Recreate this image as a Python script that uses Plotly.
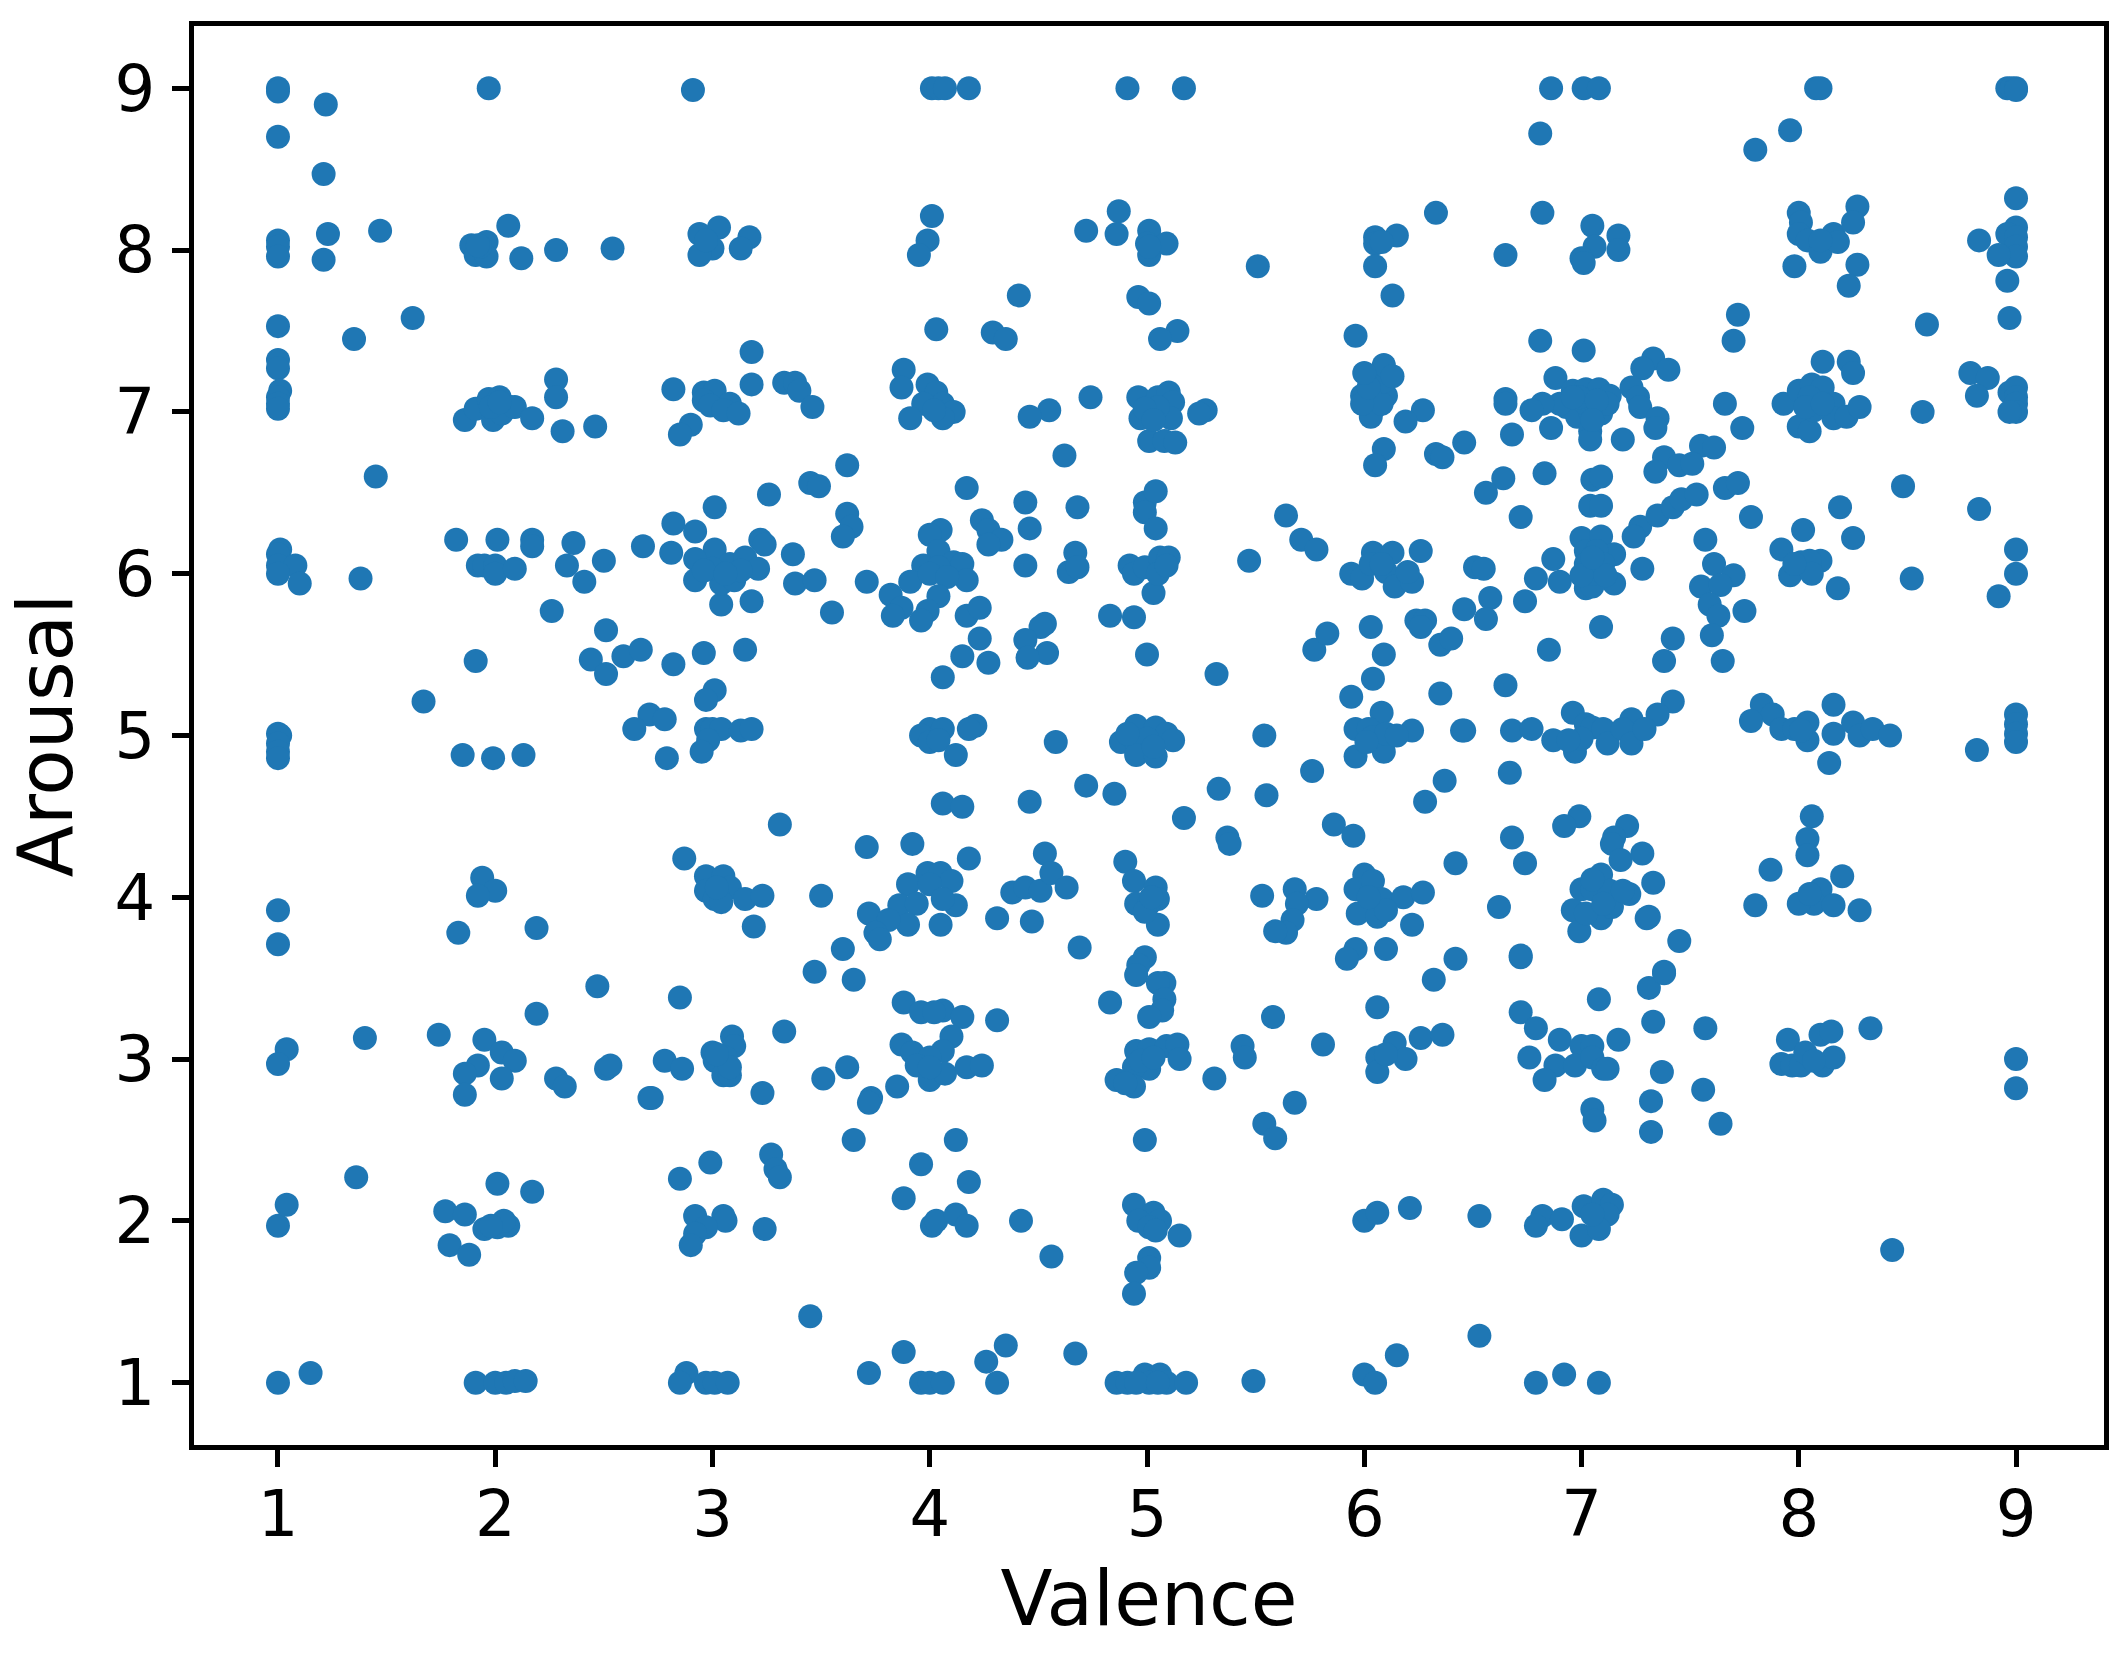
import plotly.graph_objects as go

# (valence, arousal) pairs, grouped by arousal band
band_9 = [(1,9.0),(1,8.98),(1.22,8.90),(1,8.70),(1.21,8.47),(1.97,9.0),(2.91,8.99),
 (4.01,9),(4.04,9),(4.07,9),(4.18,9),(4.91,9),(5.17,9),(6.86,9),(7.01,9),(7.08,9),(6.81,8.72),
 (8.08,9),(8.10,9),(7.96,8.74),(7.80,8.62),(8.96,9),(8.98,9),(9.0,9),(9.0,8.99)]
band_8 = [(1,8.06),(1,8.02),(1,7.96),(1.23,8.10),(1.47,8.12),(1.21,7.94),(2.06,8.15),(1.89,8.03),(1.91,7.97),
 (1.96,8.05),(1.96,7.96),(1.93,8.02),(1.92,8.03),(2.12,7.95),(2.28,8.0),(2.54,8.01),(2.94,8.10),(3.03,8.14),
 (3.0,8.01),(2.94,7.97),(3.17,8.08),(3.13,8.01),(2.97,8.06),(1,7.53),(1.35,7.45),(1.62,7.58),
 (4.01,8.21),(3.99,8.06),(3.95,7.97),(4.87,8.24),(4.72,8.12),(4.86,8.10),(5.01,8.12),(5.09,8.04),(5.0,8.04),
 (5.01,7.97),(5.01,8.02),(5.51,7.90),(6.05,8.08),(6.15,8.09),(6.05,8.04),(6.08,8.05),(6.33,8.23),(6.05,7.90),
 (6.13,7.72),(4.41,7.72),(4.96,7.71),(5.01,7.67),(4.03,7.51),(4.29,7.49),(4.35,7.45),(5.14,7.50),(5.06,7.45),
 (5.96,7.47),(6.82,8.23),(7.05,8.15),(7.17,8.09),(7.17,8.0),(7.06,8.02),(7.0,7.95),(7.01,7.92),(6.65,7.97),
 (8.0,8.23),(8.01,8.17),(8.0,8.10),(8.04,8.06),(8.10,7.99),(8.16,8.10),(8.18,8.05),(8.10,8.06),(8.27,8.27),
 (8.25,8.17),(7.98,7.90),(8.27,7.91),(8.23,7.78),(9,8.32),(9,8.14),(8.96,8.10),(9,8.08),(9,8.02),(9,7.96),
 (8.83,8.06),(8.92,7.97),(8.96,7.81),(7.72,7.60),(7.70,7.44),(8.59,7.54),(8.97,7.58),(6.81,7.44),(7.01,7.38)]
band_7 = [(1,7.32),(1,7.27),(1.01,7.13),(1,7.09),(1,7.05),(1,7.02),(2.28,7.20),(2.28,7.09),(1.86,6.95),(1.91,7.02),
 (1.99,6.95),(1.97,7.08),(2.02,7.09),(2.07,7.03),(2.03,6.99),(2.09,7.03),(1.98,7.03),(2.02,7.06),(2.17,6.96),
 (2.31,6.88),(2.46,6.91),(2.82,7.14),(3.18,7.37),(3.18,7.17),(2.96,7.12),(3.01,7.13),(2.96,7.07),(2.99,7.04),
 (3.08,7.05),(3.05,7.01),(3.12,6.99),(2.90,6.92),(2.85,6.86),(3.33,7.18),(3.38,7.18),(3.40,7.13),(3.46,7.03),
 (3.88,7.26),(3.87,7.15),(3.99,7.17),(4.03,7.12),(4.06,7.05),(3.97,7.05),(4.11,7.0),(3.91,6.96),(4.06,6.96),
 (4.02,7.01),(4.55,7.01),(4.46,6.97),(4.74,7.09),(4.96,7.09),(5.05,7.09),(5.10,7.12),(5.12,7.06),(4.97,6.96),
 (5.11,6.96),(5.05,7.03),(5.01,6.82),(5.08,6.82),(5.13,6.81),(4.99,7.02),(5.03,6.95),(5.27,7.01),(5.24,6.99),
 (5.99,7.10),(6.05,7.03),(6.03,6.97),(6.10,7.10),(6.08,7.05),(5.99,7.05),(6.09,7.19),(6.02,7.15),(6.27,7.01),
 (6.19,6.94),(6.09,7.29),(6.0,7.24),(6.13,7.22),(6.46,6.81),(6.09,6.77),(6.05,6.67),(6.33,6.74),(6.36,6.72),
 (7.33,7.33),(7.28,7.27),(7.40,7.26),(6.88,7.21),(6.65,7.08),(6.65,7.05),(6.96,7.13),(7.02,7.14),(7.08,7.14),
 (7.13,7.10),(6.93,7.03),(6.98,6.97),(7.04,7.0),(7.09,6.99),(7.12,7.05),(7.02,7.05),(6.99,7.09),(7.07,7.07),
 (7.04,6.88),(7.04,6.83),(7.05,6.95),(6.90,7.05),(6.96,7.09),(6.82,7.05),(6.77,7.01),(6.86,6.90),(6.68,6.86),
 (7.19,6.83),(7.23,7.15),(7.26,7.09),(7.27,7.03),(7.35,6.96),(7.34,6.90),(7.66,7.05),(7.74,6.90),(7.55,6.79),
 (7.61,6.78),(7.38,6.72),(7.45,6.67),(7.51,6.68),(7.34,6.63),(7.93,7.05),(8.0,7.13),(8.06,7.17),(8.11,7.15),
 (8.05,7.09),(8.16,7.05),(8.0,6.91),(8.05,6.88),(8.16,6.96),(8.22,6.97),(8.28,7.03),(8.07,7.01),(8.03,7.03),
 (8.11,7.05),(8.11,7.31),(8.23,7.31),(8.25,7.24),(8.57,7.0),(8.79,7.24),(8.87,7.21),(8.82,7.10),(8.97,7.12),
 (9,7.15),(9,7.09),(9,7.05),(9,7.0),(8.97,7.0),(3.62,6.67),(4.62,6.73),(1.45,6.60)]
band_6 = [(1.01,6.15),(1,6.12),(1,6.05),(1.08,6.05),(1,6.0),(1.10,5.94),(1.38,5.97),(1.82,6.21),(2.01,6.21),(2.17,6.21),
 (2.17,6.17),(2.36,6.19),(1.92,6.05),(1.95,6.05),(2.0,6.05),(2.0,6.0),(2.09,6.03),(2.33,6.05),(2.50,6.08),(2.41,5.95),
 (2.26,5.77),(2.68,6.17),(2.82,6.31),(2.92,6.26),(2.81,6.13),(3.01,6.41),(3.01,6.15),(2.92,6.09),(2.92,5.96),(3.04,5.81),
 (3.18,5.83),(3.04,5.94),(3.08,6.06),(3.15,6.10),(3.21,6.03),(3.10,5.96),(3.0,6.03),(3.13,6.02),(2.96,6.02),(3.06,6.0),
 (3.22,6.21),(3.24,6.18),(3.37,6.12),(3.38,5.94),(3.47,5.96),(3.26,6.49),(3.45,6.56),(3.49,6.54),(3.55,5.76),
 (3.62,6.37),(3.64,6.29),(3.60,6.23),(4.05,6.27),(4.0,6.24),(4.24,6.33),(4.27,6.27),(4.33,6.21),(4.27,6.18),(4.44,6.44),
 (4.46,6.28),(4.68,6.41),(4.17,6.53),(4.99,6.44),(5.04,6.51),(4.99,6.38),(5.04,6.28),(5.64,6.36),(5.71,6.21),(5.78,6.15),
 (5.47,6.08),(4.67,6.13),(4.64,6.01),(4.68,6.04),(4.44,6.05),(3.71,5.95),(4.04,6.14),(3.97,6.05),(3.91,5.95),(4.11,6.07),
 (4.15,6.06),(4.17,5.96),(4.04,6.04),(4.0,6.0),(4.08,5.98),(4.04,5.86),(3.82,5.87),(3.87,5.79),(3.83,5.74),(3.99,5.77),
 (3.96,5.71),(4.17,5.74),(4.23,5.79),(4.83,5.74),(4.94,5.73),(4.92,6.05),(4.94,6.0),(4.99,6.04),(5.06,6.10),(5.10,6.10),
 (5.03,5.88),(5.05,6.0),(5.09,6.05),(6.26,6.14),(6.04,6.13),(6.13,6.13),(5.94,6.0),(5.99,5.97),(6.10,6.01),(6.14,5.92),
 (6.22,5.95),(6.20,6.01),(6.03,6.06),(6.08,6.06),(6.46,5.78),(6.72,6.35),(6.64,6.59),(6.56,6.50),(6.83,6.62),(7.05,6.58),
 (7.09,6.60),(7.04,6.42),(7.09,6.42),(7.27,6.29),(7.24,6.23),(7.35,6.36),(7.42,6.41),(7.46,6.46),(7.53,6.49),(7.66,6.53),
 (7.72,6.56),(7.78,6.35),(8.19,6.41),(8.83,6.40),(8.48,6.54),(8.02,6.27),(8.25,6.22),(7.92,6.15),(9,6.15),(9,6.0),
 (8.92,5.86),(8.18,5.91),(8.52,5.97),(8.01,6.07),(8.10,6.08),(8.05,6.08),(7.96,5.99),(8.06,6.0),(7.98,6.06),(7.57,6.21),
 (7.61,6.06),(7.70,5.99),(7.55,5.92),(7.64,5.93),(7.59,5.81),(7.63,5.74),(7.60,5.62),(7.75,5.77),(6.51,6.04),(6.55,6.03),
 (6.58,5.85),(6.56,5.72),(6.74,5.83),(6.79,5.97),(6.87,6.09),(6.90,5.95),(7.0,6.22),(7.09,6.23),(7.15,6.12),(7.02,5.91),
 (7.15,5.94),(7.05,5.92),(7.02,6.14),(7.07,6.14),(7.02,6.06),(7.10,6.06),(7.05,6.0),(7.0,5.99),(7.11,5.99),(7.05,6.10),
 (7.28,6.03),(7.09,5.67),(6.24,5.71),(6.28,5.71),(6.26,5.67),(6.03,5.67)]
band_5 = [(2.51,5.65),(2.44,5.47),(2.51,5.38),(2.59,5.49),(2.67,5.53),(2.82,5.44),(2.96,5.51),(3.15,5.53),(1.91,5.46),(1.67,5.21),
 (3.01,5.28),(2.97,5.22),(1,5.01),(1.01,5.0),(1,4.95),(1,4.90),(1,4.86),(1.85,4.88),(1.99,4.86),(2.13,4.88),(2.71,5.13),
 (2.78,5.10),(2.64,5.04),(2.97,5.04),(3.0,5.04),(3.04,5.04),(3.13,5.03),(3.18,5.04),(2.98,4.97),(2.95,4.90),(2.79,4.86),
 (4.23,5.60),(4.15,5.49),(4.27,5.45),(4.06,5.36),(4.53,5.69),(4.51,5.67),(4.44,5.59),(4.54,5.51),(4.45,5.48),(5.0,5.50),(5.32,5.38),
 (5.77,5.53),(5.83,5.63),(6.09,5.50),(6.04,5.35),(5.94,5.24),(6.35,5.26),(6.35,5.56),(6.40,5.60),(4.0,5.04),(4.06,5.04),
 (3.96,5.0),(4.0,4.96),(4.04,4.97),(4.12,4.88),(4.21,5.06),(4.18,5.04),(4.58,4.96),(4.95,5.06),(5.04,5.05),(5.09,5.01),
 (5.12,4.97),(4.88,4.96),(4.94,4.98),(5.0,4.98),(4.95,4.88),(5.04,4.87),(4.91,5.01),(5.03,4.93),(5.54,5.0),(4.72,4.69),
 (4.85,4.64),(5.33,4.67),(5.55,4.63),(5.76,4.78),(6.08,5.14),(5.96,5.04),(6.02,5.04),(6.22,5.03),(5.96,4.87),(6.09,4.90),
 (6.04,4.99),(6.10,5.01),(6.15,5.0),(6.01,4.96),(6.45,5.03),(6.37,4.72),(6.28,4.59),(6.85,5.53),(7.42,5.60),(7.38,5.46),
 (7.65,5.46),(6.65,5.31),(7.42,5.21),(7.35,5.13),(6.68,5.03),(6.77,5.04),(6.46,5.03),(6.96,5.14),(6.87,4.97),(6.97,4.90),
 (7.02,5.07),(7.05,5.05),(7.10,5.04),(7.12,4.95),(7.0,4.98),(7.23,5.10),(7.19,5.04),(7.23,4.95),(7.29,5.04),(6.94,4.97),
 (6.67,4.77),(7.83,5.19),(7.88,5.13),(7.78,5.09),(7.92,5.04),(7.98,5.04),(8.04,5.08),(8.04,4.97),(8.16,5.19),(8.16,5.01),
 (8.25,5.08),(8.28,5.0),(8.34,5.04),(8.42,5.0),(8.14,4.83),(8.01,5.03),(8.82,4.91),(9,5.13),(9,5.07),(9,5.01),(9,4.96)]
band_4 = [(3.31,4.45),(2.87,4.24),(2.97,4.13),(3.05,4.13),(3.08,4.06),(2.97,4.04),(3.01,3.99),(3.04,3.97),(3.15,3.99),
 (3.23,4.01),(3.02,4.06),(3.50,4.01),(3.19,3.82),(1.94,4.12),(2.0,4.04),(1.92,4.01),(1,3.92),(1,3.71),(1.83,3.78),(2.19,3.81),
 (3.60,3.68),(3.47,3.54),(4.06,4.58),(4.15,4.56),(4.46,4.59),(5.17,4.49),(5.37,4.37),(5.38,4.33),(5.86,4.45),(5.95,4.38),
 (3.71,4.31),(3.92,4.33),(4.18,4.24),(4.53,4.27),(4.90,4.22),(4.94,4.10),(5.04,4.06),(5.05,3.99),(4.95,3.96),(5.01,3.96),
 (5.05,3.83),(4.99,3.91),(5.02,4.0),(5.53,4.01),(5.68,4.05),(5.78,3.99),(5.69,3.96),(5.67,3.86),(5.64,3.78),(5.59,3.79),
 (6.42,4.21),(6.0,4.14),(5.96,4.05),(6.04,4.10),(6.08,3.99),(6.18,4.0),(6.27,4.03),(5.97,3.90),(6.06,3.88),(6.10,3.92),
 (6.02,4.0),(6.22,3.83),(6.10,3.68),(5.96,3.68),(5.92,3.62),(6.42,3.62),(3.99,4.15),(4.05,4.15),(3.90,4.08),(4.10,4.10),
 (4.0,4.08),(3.86,3.95),(4.12,3.95),(4.06,3.99),(3.94,3.96),(3.72,3.90),(3.90,3.83),(3.81,3.86),(4.05,3.83),(3.75,3.78),
 (3.77,3.74),(4.31,3.87),(4.47,3.85),(4.38,4.03),(4.44,4.06),(4.51,4.04),(4.56,4.15),(4.63,4.06),(4.69,3.69),(4.99,3.63),
 (4.96,3.58),(6.99,4.50),(6.92,4.44),(7.21,4.44),(7.15,4.37),(7.14,4.33),(7.18,4.23),(7.28,4.27),(6.68,4.37),(6.74,4.21),
 (8.06,4.50),(8.04,4.36),(8.04,4.26),(7.87,4.17),(8.20,4.13),(7.09,4.14),(7.0,4.05),(7.05,4.05),(7.22,4.02),(7.13,4.04),
 (6.96,3.92),(7.09,3.87),(6.99,3.79),(7.02,3.90),(7.14,3.94),(7.05,4.11),(7.10,3.96),(7.19,4.04),(7.33,4.09),(7.30,3.87),
 (7.31,3.88),(7.45,3.73),(6.62,3.94),(6.72,3.63),(6.72,3.64),(7.80,3.95),(8.10,4.05),(8.07,3.96),(8.16,3.95),(8.28,3.92),
 (8.0,3.96),(8.05,4.02),(7.38,3.54)]
band_3 = [(1.04,3.06),(1,2.97),(1.40,3.13),(1.74,3.15),(1.95,3.12),(2.03,3.04),(2.09,2.99),(1.92,2.96),(1.86,2.91),(2.03,2.88),
 (1.86,2.78),(2.19,3.28),(2.47,3.45),(2.28,2.88),(2.32,2.83),(2.51,2.94),(2.53,2.96),(2.78,2.99),(2.86,2.94),(2.71,2.76),
 (2.72,2.76),(2.85,3.38),(3.09,3.14),(3.10,3.08),(3.0,3.04),(3.01,2.99),(3.06,3.01),(3.05,2.90),(3.08,2.90),(3.08,2.95),
 (3.02,3.03),(3.33,3.17),(3.23,2.79),(3.51,2.88),(3.65,3.49),(3.88,3.35),(3.96,3.29),(4.06,3.30),(4.15,3.26),(4.02,3.29),
 (4.31,3.24),(4.10,3.14),(4.06,3.05),(3.87,3.09),(3.92,3.04),(4.0,3.01),(3.94,2.96),(4.0,2.87),(4.07,2.91),(4.17,2.95),
 (4.24,2.96),(4.0,2.95),(3.62,2.95),(3.85,2.83),(3.73,2.76),(3.72,2.73),(4.83,3.35),(4.95,3.52),(5.08,3.47),(5.05,3.47),
 (5.08,3.37),(5.07,3.30),(5.01,3.26),(4.95,3.05),(5.01,3.06),(5.09,3.08),(5.14,3.09),(5.15,3.0),(5.01,2.94),(4.94,2.95),
 (4.86,2.87),(4.94,2.83),(4.90,2.85),(4.97,2.99),(5.03,3.01),(5.31,2.88),(5.44,3.08),(5.45,3.01),(5.81,3.09),(5.58,3.26),
 (5.68,2.73),(5.54,2.60),(5.59,2.51),(6.06,3.32),(6.32,3.49),(6.26,3.13),(6.36,3.15),(6.14,3.10),(6.06,3.01),(6.19,3.0),
 (6.06,2.92),(6.10,3.03),(7.08,3.37),(7.31,3.44),(7.38,3.53),(6.72,3.29),(6.79,3.19),(7.33,3.23),(7.57,3.19),(6.90,3.12),
 (7.0,3.08),(7.05,3.08),(7.17,3.12),(6.76,3.01),(6.88,2.96),(6.97,2.96),(7.05,3.01),(7.10,2.94),(7.12,2.94),(6.83,2.87),
 (7.37,2.92),(7.56,2.81),(7.32,2.74),(7.32,2.55),(7.64,2.60),(7.05,2.69),(7.06,2.62),(7.95,3.12),(8.10,3.15),(8.15,3.17),
 (8.33,3.19),(7.92,2.97),(7.97,2.96),(8.01,2.96),(8.03,3.04),(8.11,2.96),(8.16,3.01),(8.07,2.99),(9,3.0),(9,2.82)]
band_2 = [(1,1.97),(1.04,2.10),(1.36,2.27),(2.01,2.23),(2.17,2.18),(1.77,2.06),(1.86,2.04),(1.79,1.85),(1.88,1.79),(1.95,1.95),
 (2.01,1.96),(2.06,1.97),(2.04,2.0),(1.98,1.97),(2.85,2.26),(2.99,2.36),(3.27,2.41),(3.29,2.32),(3.31,2.27),(2.92,2.03),
 (3.05,2.03),(3.06,2.0),(2.97,1.96),(2.92,1.92),(2.90,1.85),(3.24,1.95),(3.65,2.50),(4.12,2.50),(3.96,2.35),(4.18,2.24),
 (3.88,2.14),(4.01,1.97),(4.03,2.0),(4.12,2.04),(4.17,1.97),(4.42,2.0),(4.56,1.78),(4.99,2.50),(4.94,2.10),(5.03,2.05),
 (5.06,2.0),(4.96,2.0),(5.01,1.96),(5.04,1.94),(5.15,1.91),(5.01,1.77),(5.01,1.71),(4.95,1.68),(4.94,1.55),(6.0,2.0),
 (6.06,2.05),(6.21,2.08),(6.53,2.03),(7.01,2.09),(7.10,2.13),(7.14,2.10),(7.12,2.04),(6.82,2.03),(6.79,1.97),(6.91,2.01),
 (7.0,1.91),(7.08,1.95),(7.05,2.04),(8.43,1.82)]
band_1 = [(1,1.0),(1.15,1.06),(1.91,1.0),(2.0,1.0),(2.05,1.0),(2.09,1.01),(2.14,1.01),(2.88,1.06),(2.85,1.0),(2.97,1.0),(3.01,1.0),
 (3.07,1.0),(3.45,1.41),(3.88,1.19),(3.72,1.06),(3.96,1.0),(4.0,1.0),(4.06,1.0),(4.35,1.23),(4.26,1.13),(4.31,1.0),(4.67,1.18),
 (4.86,1.0),(4.91,1.0),(4.99,1.05),(5.06,1.05),(5.01,1.0),(5.09,1.0),(4.95,1.0),(5.18,1.0),(5.05,1.0),(5.49,1.01),(6.0,1.05),
 (6.05,1.0),(6.15,1.17),(6.53,1.29),(6.79,1.0),(6.92,1.05),(7.08,1.0)]

tick_values = [1, 2, 3, 4, 5, 6, 7, 8, 9]
x_label = "Valence"
y_label = "Arousal"

pairs = band_9 + band_8 + band_7 + band_6 + band_5 + band_4 + band_3 + band_2 + band_1
valence = [p[0] for p in pairs]
arousal = [p[1] for p in pairs]

fig = go.Figure(go.Scatter(x=valence, y=arousal, mode="markers",
                           marker=dict(color="#1f77b4", size=24, line=dict(width=0))))

axis_common = dict(
    tickmode="array", tickvals=tick_values, ticktext=[str(t) for t in tick_values],
    showgrid=False, zeroline=False, showline=True, mirror=True, linecolor="black", linewidth=5,
    ticks="outside", ticklen=17, tickwidth=5, tickcolor="black",
    tickfont=dict(family="DejaVu Sans", size=64, color="black"),
)
fig.update_xaxes(range=[0.6134, 9.405], ticklabelstandoff=-8,
                 title=dict(text=x_label, font=dict(family="DejaVu Sans", size=76, color="black"), standoff=24),
                 **axis_common)
fig.update_yaxes(range=[0.6147, 9.385], ticklabelstandoff=4,
                 title=dict(text=y_label, font=dict(family="DejaVu Sans", size=76, color="black"), standoff=18),
                 **axis_common)
fig.update_layout(width=2120, height=1654, autosize=False, showlegend=False,
                  paper_bgcolor="white", plot_bgcolor="white",
                  margin=dict(l=194, r=15.5, t=25.7, b=209, pad=0, autoexpand=False))
fig.write_html("out.html", config=dict(displayModeBar=False),
               post_script="document.body.style.margin='0';document.documentElement.style.overflow='hidden';")
